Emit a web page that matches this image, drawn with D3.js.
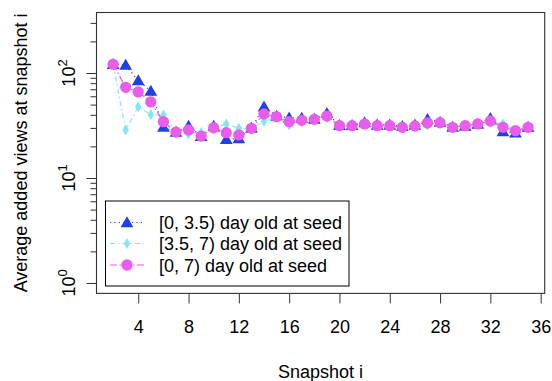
<!DOCTYPE html>
<html>
<head>
<meta charset="utf-8">
<script src="https://cdn.jsdelivr.net/npm/d3@7"></script>
<style>
  html, body { margin: 0; padding: 0; background: #fff; }
  svg { display: block; }
  text { font-family: "Liberation Sans", Arial, Helvetica, sans-serif; fill: #000; }
</style>
</head>
<body>
<svg id="chart" width="552" height="381"></svg>
<script>
// ---------- data ----------
const snapshots = [2,3,4,5,6,7,8,9,10,11,12,13,14,15,16,17,18,19,20,21,22,23,24,25,26,27,28,29,30,31,32,33,34,35];
const seriesNames = ["[0, 3.5) day old at seed", "[3.5, 7) day old at seed", "[0, 7) day old at seed"];
const young = [121,119,84.5,67.4,30.6,27.4,31.3,25,31.3,23.4,23.7,29.9,47.7,38.9,37.5,37.3,36.5,41.3,31.7,31.7,33.7,32,32,31,32,36.2,34,30.6,31.3,32.7,37,27.6,27,30.6];
const older = [121,28.7,47.7,40.1,39.8,27.4,26.2,27,29.9,32.7,29.7,29.7,34.7,38,32,34,35.5,37.3,31.3,31.3,32,31.3,31.3,30,30.6,32,33.4,30,31.7,32.7,34,32.7,28,30.2];
const all = [121,73,66,53,34.4,27.4,28.7,25.1,30.1,27,25.7,29.7,40.7,38.4,34.4,35.4,36.2,38.9,31.5,31.5,32.7,31.5,31.5,30.4,31.3,33.4,33.6,30.4,31.5,32.7,34.9,30.4,28.2,30.4];
const xTicks = [4,8,12,16,20,24,28,32,36];
const yMajor = [1,10,100];
const yMinor = [2,3,4,5,6,7,8,9,20,30,40,50,60,70,80,90,200,300];
const xLabel = "Snapshot i";
const yLabel = "Average added views at snapshot i";

// ---------- layout ----------
const W = 552, H = 381;
const L = 96.5, R = 544.7, T = 12.5, B = 293.4;
const svg = d3.select("#chart");

// R style 4% extension
const xr = [2, 35], xe = (xr[1]-xr[0])*0.04;
const x = d3.scaleLinear().domain([xr[0]-xe, xr[1]+xe]).range([L, R]);
const lr = [0, Math.log10(300)], le = (lr[1]-lr[0])*0.04;
const y = d3.scaleLog().domain([Math.pow(10, lr[0]-le), Math.pow(10, lr[1]+le)]).range([B, T]);

const colors = ["#1f40e6", "#7fe9f2", "#ea5cec"];
const dashes = ["1.2,3.2", "5,3,1.5,3", "7,2.5,1.5,2.5"];
const data = [young, older, all];

// ---------- axes ----------
const xAxis = svg.append("g").attr("transform", `translate(0,${B})`)
  .call(d3.axisBottom(x).tickValues(xTicks).tickSize(10).tickPadding(17).tickFormat(d3.format("d")));
xAxis.select(".domain").remove();
xAxis.selectAll("line").attr("stroke", "#333");
xAxis.selectAll("text").attr("font-size", 18).style("font-family", '"Liberation Sans", Arial, sans-serif');

const yAxisMaj = svg.append("g").attr("transform", `translate(${L},0)`)
  .call(d3.axisLeft(y).tickValues(yMajor).tickSize(10).tickFormat(""));
yAxisMaj.select(".domain").remove();
yAxisMaj.selectAll("line").attr("stroke", "#333");

const yAxisMin = svg.append("g").attr("transform", `translate(${L},0)`)
  .call(d3.axisLeft(y).tickValues(yMinor).tickSize(6).tickFormat(""));
yAxisMin.select(".domain").remove();
yAxisMin.selectAll("line").attr("stroke", "#333");

// y tick labels 10^k, rotated
yMajor.forEach(v => {
  const k = Math.round(Math.log10(v));
  const t = svg.append("text")
    .attr("transform", `translate(75,${y(v)}) rotate(-90)`)
    .attr("text-anchor", "middle")
    .attr("font-size", 18);
  t.append("tspan").text("10");
  t.append("tspan").attr("dy", -8).attr("font-size", 13).text(k);
});

// box
svg.append("rect").attr("x", L).attr("y", T).attr("width", R-L).attr("height", B-T)
  .attr("fill", "none").attr("stroke", "#333").attr("stroke-width", 1.1);

// titles
svg.append("text").attr("x", (L+R)/2).attr("y", 378).attr("text-anchor", "middle")
  .attr("font-size", 18).text(xLabel);
svg.append("text").attr("transform", `translate(27,${(T+B)/2}) rotate(-90)`)
  .attr("text-anchor", "middle").attr("font-size", 18).text(yLabel);

// ---------- series ----------
const line = d3.line().x((d,i) => x(snapshots[i])).y(d => y(d));

const triSym = d3.symbol().type(d3.symbolTriangle).size(70);
const diaSym = d3.symbol().type(d3.symbolDiamond).size(36);
const cirSym = d3.symbol().type(d3.symbolCircle).size(100);
const syms = [triSym, diaSym, cirSym];

data.forEach((vals, s) => {
  svg.append("path").datum(vals).attr("d", line)
    .attr("fill", "none").attr("stroke", colors[s]).attr("stroke-width", 1.2)
    .attr("stroke-dasharray", dashes[s]);
  svg.append("g").selectAll("path").data(vals).join("path")
    .attr("transform", (d,i) => `translate(${x(snapshots[i])},${y(d) + (s===0 ? 1 : 0)})`)
    .attr("d", syms[s]())
    .attr("fill", colors[s]);
});

// ---------- legend ----------
const lg = svg.append("g");
lg.append("rect").attr("x", 105.5).attr("y", 201).attr("width", 243.5).attr("height", 85)
  .attr("fill", "#fff").attr("stroke", "#000").attr("stroke-width", 1);
const legY = [222.5, 243.5, 265];
seriesNames.forEach((name, s) => {
  lg.append("line").attr("x1", 110).attr("x2", 144).attr("y1", legY[s]).attr("y2", legY[s])
    .attr("stroke", colors[s]).attr("stroke-width", 1.2).attr("stroke-dasharray", dashes[s]);
  lg.append("path").attr("transform", `translate(127,${legY[s] + (s===0 ? 1 : 0)})`)
    .attr("d", syms[s]()).attr("fill", colors[s]);
  lg.append("text").attr("x", 159).attr("y", legY[s] + 6.5).attr("font-size", 18).text(name);
});
</script>
</body>
</html>
